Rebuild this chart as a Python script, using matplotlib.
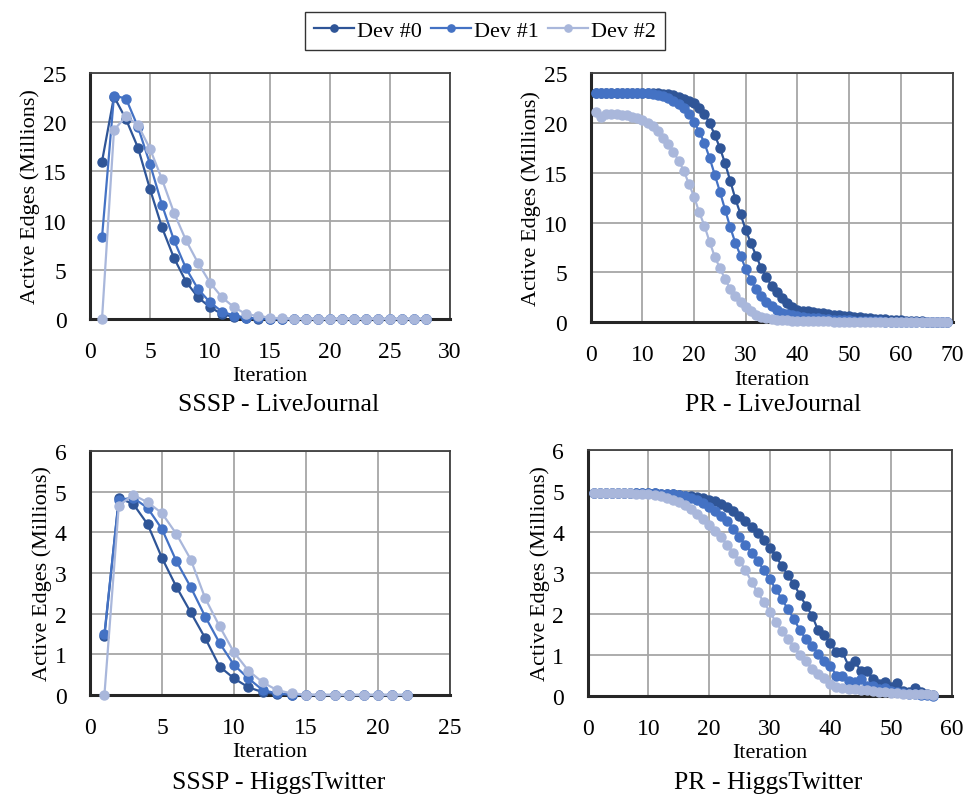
import matplotlib
matplotlib.use('Agg')
import matplotlib.pyplot as plt

plt.rcParams['font.family'] = ['Liberation Serif', 'DejaVu Serif']

labels = ['Dev #0', 'Dev #1', 'Dev #2']
colors = ['#2F5597', '#4472C4', '#A9B7DB']

# SSSP - LiveJournal (iterations 1..28)
sssp_lj_iter = list(range(1, 29))
sssp_lj_dev0 = [16.0, 22.6, 20.3, 17.4, 13.2, 9.3, 6.2, 3.8, 2.2, 1.2, 0.5, 0.2, 0.07, 0.03, 0.01,
                0, 0, 0, 0, 0, 0, 0, 0, 0, 0, 0, 0, 0]
sssp_lj_dev1 = [8.3, 22.7, 22.4, 19.5, 15.75, 11.6, 8.0, 5.15, 3.05, 1.7, 0.75, 0.35, 0.15, 0.05, 0.02,
                0, 0, 0, 0, 0, 0, 0, 0, 0, 0, 0, 0, 0]
sssp_lj_dev2 = [0, 19.2, 20.6, 19.7, 17.3, 14.2, 10.8, 8.0, 5.7, 3.7, 2.2, 1.2, 0.5, 0.3, 0.15,
                0.05, 0.02, 0, 0, 0, 0, 0, 0, 0, 0, 0, 0, 0]

# PR - LiveJournal (iterations 1..69)
pr_lj_iter = list(range(1, 70))
pr_lj_dev0 = [23.0, 23.0, 23.0, 23.0, 23.0, 23.0, 23.0, 23.0, 23.0, 23.0, 23.0, 23.0,
              22.95, 22.9, 22.85, 22.75, 22.6, 22.4, 22.2, 22.0, 21.45, 20.9, 19.98, 18.78,
              17.47, 15.93, 14.16, 12.35, 10.81, 9.24, 7.93, 6.66, 5.42, 4.49, 3.65, 2.98,
              2.38, 1.9, 1.53, 1.23, 1.15, 1.08, 1.02, 0.97, 0.92, 0.85, 0.77, 0.7, 0.64,
              0.59, 0.54, 0.5, 0.45, 0.41, 0.37, 0.33, 0.29, 0.25, 0.21, 0.18, 0.15, 0.12,
              0.1, 0.08, 0.06, 0.05, 0.04, 0.03, 0.02]
pr_lj_dev1 = [23.0, 23.0, 23.0, 23.0, 23.0, 23.0, 23.0, 23.0, 23.0, 23.0,
              22.95, 22.9, 22.8, 22.65, 22.45, 22.2, 21.9, 21.45, 20.9, 20.1, 19.1, 17.97,
              16.47, 14.79, 13.08, 11.28, 9.5, 7.93, 6.66, 5.32, 4.22, 3.31, 2.58, 2.05,
              1.58, 1.24, 0.97, 0.8, 0.68, 0.6, 0.53, 0.47, 0.42, 0.38, 0.34, 0.3, 0.27,
              0.24, 0.21, 0.18, 0.16, 0.14, 0.12, 0.1, 0.09, 0.08, 0.07, 0.06, 0.05, 0.04,
              0.04, 0.03, 0.03, 0.02, 0.02, 0.01, 0.01, 0.01, 0.01]
pr_lj_dev2 = [21.05, 20.55, 20.85, 20.9, 20.9, 20.8, 20.75, 20.6, 20.45, 20.25, 19.95, 19.7,
              19.2, 18.44, 17.87, 17.1, 16.2, 15.2, 13.86, 12.58, 11.01, 9.67, 8.06, 6.56,
              5.42, 4.32, 3.31, 2.58, 1.98, 1.48, 1.08, 0.75, 0.55, 0.42, 0.33, 0.27, 0.22,
              0.19, 0.17, 0.15, 0.13, 0.12, 0.11, 0.1, 0.09, 0.08, 0.07, 0.06, 0.06, 0.05,
              0.05, 0.04, 0.04, 0.04, 0.03, 0.03, 0.03, 0.03, 0.02, 0.02, 0.02, 0.02, 0.02,
              0.01, 0.01, 0.01, 0.01, 0.01, 0.01]

# SSSP - HiggsTwitter (iterations 1..22)
sssp_ht_iter = list(range(1, 23))
sssp_ht_dev0 = [1.45, 4.84, 4.7, 4.2, 3.37, 2.66, 2.03, 1.40, 0.70, 0.41, 0.19, 0.07, 0.02, 0.01,
                0, 0, 0, 0, 0, 0, 0, 0]
sssp_ht_dev1 = [1.5, 4.8, 4.85, 4.6, 4.08, 3.29, 2.65, 1.93, 1.28, 0.74, 0.41, 0.12, 0.04, 0.01,
                0, 0, 0, 0, 0, 0, 0, 0]
sssp_ht_dev2 = [0, 4.66, 4.92, 4.74, 4.47, 3.96, 3.33, 2.38, 1.69, 1.05, 0.6, 0.31, 0.12, 0.04,
                0.01, 0, 0, 0, 0, 0, 0, 0]

# PR - HiggsTwitter (iterations 1..57)
pr_ht_iter = list(range(1, 58))
pr_ht_dev0 = [4.95, 4.95, 4.95, 4.95, 4.95, 4.95, 4.95, 4.95, 4.95, 4.95, 4.95,
              4.94, 4.93, 4.92, 4.91, 4.89, 4.87, 4.85, 4.82, 4.79, 4.75, 4.69, 4.61, 4.52,
              4.4, 4.28, 4.12, 3.98, 3.81, 3.62, 3.41, 3.18, 2.95, 2.73, 2.46, 2.2, 1.96,
              1.6, 1.5, 1.29, 1.07, 1.07, 0.74, 0.86, 0.62, 0.62, 0.41, 0.29, 0.35, 0.21,
              0.31, 0.13, 0.1, 0.19, 0.1, 0.06, 0.03]
pr_ht_dev1 = [4.95, 4.95, 4.95, 4.95, 4.95, 4.95, 4.95, 4.95, 4.95, 4.95, 4.95,
              4.94, 4.93, 4.92, 4.9, 4.87, 4.83, 4.77, 4.7, 4.62, 4.52, 4.4, 4.28, 4.07,
              3.89, 3.68, 3.5, 3.3, 3.08, 2.85, 2.61, 2.37, 2.12, 1.88, 1.6, 1.39, 1.23,
              1.02, 0.86, 0.74, 0.5, 0.48, 0.37, 0.35, 0.41, 0.25, 0.25, 0.17, 0.2, 0.12,
              0.1, 0.08, 0.06, 0.05, 0.03, 0.02, 0.01]
pr_ht_dev2 = [4.95, 4.95, 4.95, 4.95, 4.95, 4.95, 4.95, 4.94, 4.93, 4.92, 4.9, 4.87,
              4.84, 4.79, 4.73, 4.65, 4.56, 4.45, 4.32, 4.17, 4.03, 3.87, 3.68, 3.5, 3.3,
              3.07, 2.79, 2.53, 2.3, 2.06, 1.81, 1.59, 1.39, 1.19, 1.0, 0.86, 0.66, 0.54,
              0.43, 0.29, 0.21, 0.2, 0.18, 0.17, 0.16, 0.14, 0.12, 0.1, 0.09, 0.08, 0.07,
              0.06, 0.05, 0.05, 0.04, 0.04, 0.03]

# axes rect, x data, series, x ticks, y ticks, title, title position (fig fraction)
panels = [
    ([0.0928, 0.602, 0.371, 0.306], sssp_lj_iter, [sssp_lj_dev0, sssp_lj_dev1, sssp_lj_dev2],
     (0, 30, 5), (0, 25, 5), 'SSSP - LiveJournal', (0.287, 0.496)),
    ([0.609, 0.598, 0.373, 0.310], pr_lj_iter, [pr_lj_dev0, pr_lj_dev1, pr_lj_dev2],
     (0, 70, 10), (0, 25, 5), 'PR - LiveJournal', (0.797, 0.496)),
    ([0.0928, 0.1343, 0.371, 0.3035], sssp_ht_iter, [sssp_ht_dev0, sssp_ht_dev1, sssp_ht_dev2],
     (0, 25, 5), (0, 6, 1), 'SSSP - HiggsTwitter', (0.287, 0.026)),
    ([0.606, 0.133, 0.375, 0.306], pr_ht_iter, [pr_ht_dev0, pr_ht_dev1, pr_ht_dev2],
     (0, 60, 10), (0, 6, 1), 'PR - HiggsTwitter', (0.792, 0.026)),
]

fig = plt.figure(figsize=(9.7, 8.04), dpi=100)

for rect, it, series, xr, yr, title, tpos in panels:
    ax = fig.add_axes(rect)
    for vals, c, lab in zip(series, colors, labels):
        ax.plot(it, vals, color=c, marker='o', markersize=6.5, linewidth=1.6,
                label=lab, clip_on=False, zorder=3)
    ax.set_xlim(xr[0], xr[1])
    ax.set_ylim(yr[0], yr[1])
    ax.set_xticks(range(xr[0], xr[1] + 1, xr[2]))
    ax.set_yticks(range(yr[0], yr[1] + 1, yr[2]))
    ax.grid(True, color='#a6a6a6', linewidth=1.3)
    ax.set_axisbelow(True)
    for s in ['top', 'right']:
        ax.spines[s].set_color('#404040')
        ax.spines[s].set_linewidth(1.3)
    for s in ['left', 'bottom']:
        ax.spines[s].set_color('#262626')
        ax.spines[s].set_linewidth(2.2)
    ax.tick_params(length=0, labelsize=17)
    ax.tick_params(axis='x', pad=16)
    ax.tick_params(axis='y', pad=17)
    ax.set_ylabel('Active Edges (Millions)', fontsize=16, labelpad=2)
    ax.set_xlabel('Iteration', fontsize=16, labelpad=3)
    fig.text(tpos[0], tpos[1], title, ha='center', va='center', fontsize=18.5)

handles, labs = ax.get_legend_handles_labels()
leg = fig.legend(handles, labs, loc='upper center', bbox_to_anchor=(0.5, 0.998), ncol=3,
                 fontsize=16, frameon=True, fancybox=False, edgecolor='black',
                 handlelength=1.8, handletextpad=0.15, columnspacing=0.4, borderpad=0.4,
                 markerscale=0.8)
leg.get_frame().set_linewidth(1.0)

fig.savefig('out.png', dpi=100)
